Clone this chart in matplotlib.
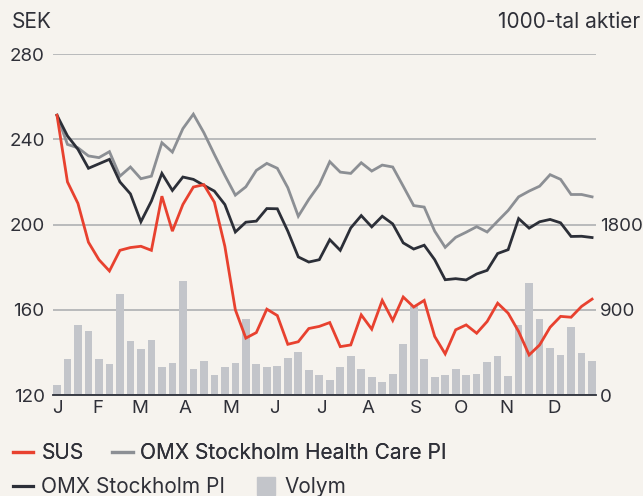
import matplotlib
matplotlib.use("Agg")
import matplotlib.pyplot as plt
from matplotlib.lines import Line2D

plt.rcParams['font.family'] = ['Inter', 'DejaVu Sans']

weeks = list(range(1, 53))

sus = [251.3, 220.0, 209.9, 191.7, 183.5, 178.2, 187.9, 189.2, 189.8, 187.9,
       213.3, 196.9, 209.4, 217.6, 218.7, 210.5, 189.8, 160.0, 146.7, 149.3,
       160.3, 157.3, 143.8, 145.0, 151.2, 152.2, 154.0, 142.7, 143.5, 157.6,
       150.9, 164.4, 155.0, 166.0, 161.3, 164.4, 147.5, 139.3, 150.6, 152.9,
       149.0, 154.5, 163.1, 158.4, 149.8, 138.8, 143.5, 151.8, 156.9, 156.5,
       161.6, 165.0]

omx_pi = [251.3, 241.6, 235.3, 226.4, 228.5, 230.6, 220.0, 214.4, 201.3, 211.0,
          224.0, 216.0, 222.3, 221.2, 218.4, 215.7, 209.4, 196.5, 201.1, 201.6,
          207.5, 207.4, 196.9, 184.8, 182.4, 183.5, 192.9, 187.9, 198.4, 204.2,
          198.9, 203.9, 200.3, 191.4, 188.5, 190.3, 183.5, 174.1, 174.6, 174.0,
          176.8, 178.5, 186.4, 188.2, 202.8, 198.3, 201.3, 202.4, 200.8, 194.4,
          194.5, 193.9]

omx_hc = [251.3, 237.6, 236.0, 232.2, 231.4, 234.2, 222.7, 227.0, 221.5, 222.7,
          238.4, 234.0, 245.0, 251.8, 243.1, 232.9, 223.1, 213.8, 217.7, 225.4,
          228.7, 226.4, 217.3, 203.9, 211.8, 218.7, 229.5, 224.6, 224.0, 229.0,
          225.1, 227.9, 227.0, 218.0, 208.9, 208.2, 196.9, 189.3, 194.0, 196.4,
          199.0, 196.5, 201.6, 206.6, 213.0, 215.7, 218.0, 223.4, 221.2, 214.1,
          214.1, 213.0]

volym = [106, 381, 741, 681, 381, 328, 1070, 572, 491, 582,
         297, 339, 1207, 275, 360, 212, 297, 339, 805, 328,
         297, 307, 392, 455, 265, 212, 159, 297, 413, 279,
         191, 138, 222, 540, 945, 381, 191, 212, 275, 212,
         222, 350, 413, 201, 741, 1186, 805, 498, 424, 720,
         445, 360]

month_labels = ['J', 'F', 'M', 'A', 'M', 'J', 'J', 'A', 'S', 'O', 'N', 'D']
month_pos = [1.0, 4.87, 8.93, 13.2, 17.6, 21.7, 26.2, 30.6, 35.2, 39.5, 43.8, 48.4]

left_ticks = [120, 160, 200, 240, 280]
right_ticks = [0, 900, 1800, 2700, 3600]
right_labels = ['0', '900', '1800', '', '']

BG = '#f6f3ee'
RED = '#e8412f'
GRAY = '#8c8f94'
DARK = '#2c2f38'
BAR = '#c3c5ca'
GRID = '#a9aaae'
TXT = '#2f3038'
FS = 15
TFS = 13.5

fig = plt.figure(figsize=(6.43, 4.96), dpi=100, facecolor=BG)
ax2 = fig.add_axes([0.0824, 0.2036, 0.8446, 0.6874])
ax1 = ax2.twinx()
ax2.set_facecolor(BG)
ax1.patch.set_visible(False)
ax1.set_zorder(ax2.get_zorder() + 1)

# bars (right scale)
ax2.bar(weeks, volym, width=0.73, color=BAR, zorder=2)
ax2.set_ylim(0, 3600)
ax2.set_yticks(right_ticks)
ax2.set_yticklabels(right_labels)
ax2.yaxis.tick_right()
ax2.grid(axis='y', color=GRID, linewidth=1.1, zorder=0)
ax2.set_axisbelow(True)

# lines (left scale)
ax1.plot(weeks, omx_hc, color=GRAY, linewidth=2.0, solid_joinstyle='miter')
ax1.plot(weeks, omx_pi, color=DARK, linewidth=2.0, solid_joinstyle='miter')
ax1.plot(weeks, sus, color=RED, linewidth=2.0, solid_joinstyle='miter')
ax1.set_ylim(120, 280)
ax1.set_yticks(left_ticks)
ax1.yaxis.tick_left()

ax2.set_xlim(0.62, 52.38)
ax2.set_xticks(month_pos)
ax2.set_xticklabels(month_labels)

for a in (ax1, ax2):
    for s in ('top', 'left', 'right', 'bottom'):
        a.spines[s].set_visible(False)
ax2.spines['bottom'].set_visible(True)
ax2.spines['bottom'].set_color(DARK)
ax2.spines['bottom'].set_linewidth(1.3)
ax2.spines['bottom'].set_zorder(5)

ax1.tick_params(axis='y', length=0, pad=6, labelsize=TFS, labelcolor=TXT)
ax2.tick_params(axis='y', length=0, pad=3, labelsize=TFS, labelcolor=TXT)
ax2.tick_params(axis='x', length=0, pad=3.5, labelsize=TFS, labelcolor=TXT)
ax1.tick_params(axis='x', length=0, labelbottom=False)

fig.text(12 / 643, 1 - 22 / 496, 'SEK', ha='left', va='center', fontsize=FS, color=TXT)
fig.text(640 / 643, 1 - 22 / 496, '1000-tal aktier', ha='right', va='center', fontsize=FS, color=TXT)

h1 = [Line2D([], [], color=RED, linewidth=2.3),
      Line2D([], [], color=GRAY, linewidth=2.3)]
leg1 = fig.legend(h1, ['SUS', 'OMX Stockholm Health Care PI'], loc='center left',
                  bbox_to_anchor=(-2 / 643, 1 - 453 / 496), ncol=2, frameon=False,
                  fontsize=FS, handlelength=1.0, handletextpad=0.38,
                  columnspacing=1.35, borderpad=0.2, labelcolor=TXT)
h2 = [Line2D([], [], color=DARK, linewidth=2.3),
      Line2D([], [], color=BAR, marker='s', markersize=12.5, linestyle='none')]
leg2 = fig.legend(h2, ['OMX Stockholm PI', 'Volym'], loc='center left',
                  bbox_to_anchor=(-2 / 643, 1 - 487 / 496), ncol=2, frameon=False,
                  fontsize=FS, handlelength=1.0, handletextpad=0.38,
                  columnspacing=1.45, borderpad=0.2, labelcolor=TXT)
fig.add_artist(leg1)

fig.savefig('out.png', dpi=100, facecolor=BG)
